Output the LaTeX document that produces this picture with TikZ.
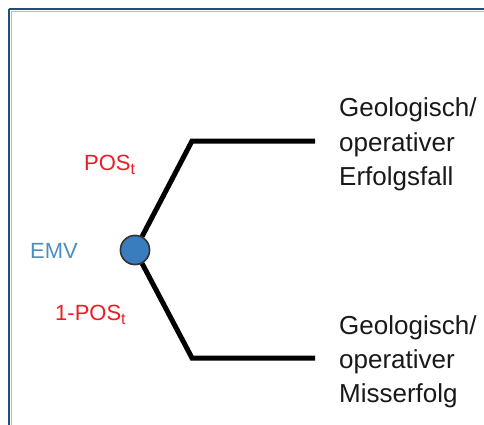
\documentclass[tikz,border=0pt]{standalone}
\usepackage{fontspec}
\setmainfont{Liberation Sans}
\definecolor{frameblue}{HTML}{1F4E79}
\definecolor{framelight}{HTML}{9DC3E6}
\definecolor{nodeblue}{HTML}{3A7DBF}
\definecolor{emvblue}{HTML}{4A8FC4}
\definecolor{posred}{HTML}{EE1C25}
\newcommand{\subt}{\raisebox{-0.22em}{\fontsize{16}{16}\selectfont t}}
\begin{document}
\begin{tikzpicture}[x=1pt,y=-1pt,
  branch/.style={line width=5pt, black, line join=miter},
  outcome/.style={anchor=base west, inner sep=0pt, font=\fontsize{26}{30}\selectfont, text=black!90},
  prob/.style={anchor=base west, inner sep=0pt, font=\fontsize{22}{24}\selectfont, text=posred},
  chance/.style={circle, fill=nodeblue, draw=black!80, line width=1.5pt, minimum size=29pt, inner sep=0pt}]
\useasboundingbox (0,0) rectangle (484,425);
\fill[white] (0,0) rectangle (484,425);
\draw[frameblue, line width=2.2pt] (9,9) -- (500,9);
\draw[frameblue, line width=2.2pt] (9,9) -- (9,440);
\draw[framelight, line width=0.8pt] (11,11) -- (500,11);
\draw[framelight, line width=0.8pt] (11,11) -- (11,440);
\node[chance] (emv) at (135,250) {};
\coordinate (up) at (192,141);
\coordinate (upend) at (315,141);
\coordinate (dn) at (192,358);
\coordinate (dnend) at (315,358);
\draw[branch] (emv) -- (up) -- (upend);
\draw[branch] (emv) -- (dn) -- (dnend);
\node[chance] at (emv) {};
\node[anchor=base east, inner sep=0pt, font=\fontsize{22}{24}\selectfont, text=emvblue] (emvlab) at (78,258) {EMV};
\node[prob] (pos) at (84,170) {POS\subt};
\node[prob] (npos) at (55,320) {1-POS\subt};
\node[outcome] (a1) at (339,117) {Geologisch/};
\node[outcome] (a2) at (339,151) {operativer};
\node[outcome] (a3) at (339,185) {Erfolgsfall};
\node[outcome] (b1) at (339,334) {Geologisch/};
\node[outcome] (b2) at (339,368) {operativer};
\node[outcome] (b3) at (339,402) {Misserfolg};
\end{tikzpicture}
\end{document}
